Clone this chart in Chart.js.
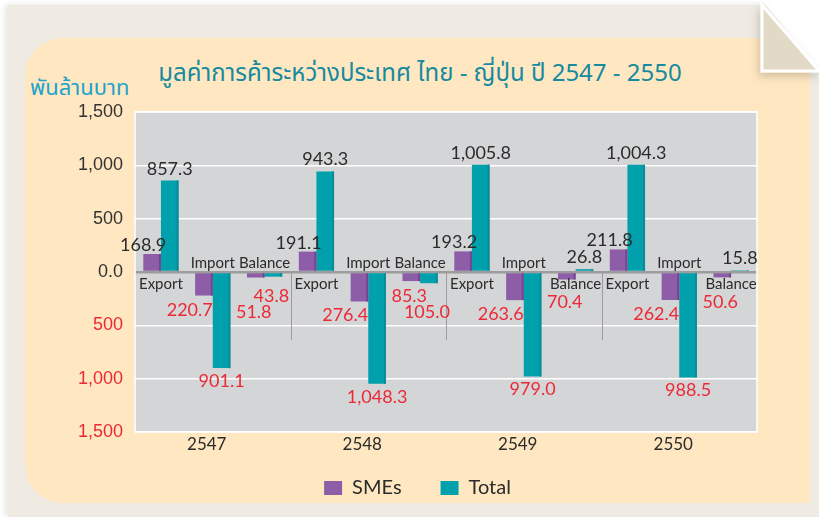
<!DOCTYPE html>
<html>
<head>
<meta charset="utf-8">
<script src="https://cdn.jsdelivr.net/npm/chart.js@4.4.1/dist/chart.umd.min.js"></script>
<style>
  html, body { margin: 0; padding: 0; background: #fff; }
  #wrap { position: relative; width: 819px; height: 517px; overflow: hidden; }
  .sheet { position: absolute; left: 8px; top: 5px; width: 811px; height: 512px; background: #EFEBE2;
           box-shadow: -3px 0 6px rgba(0,0,0,0.10); }
  .card { position: absolute; left: 25px; top: 38px; width: 785px; height: 465px; background: #FFE7C1;
          border-radius: 38px 0 0 38px; }
  .title { position: absolute; left: 0; width: 840px; top: 56px; text-align: center; color: #168A9E;
           font: 24px "Noto Sans Thai", "Noto Sans", "DejaVu Sans", sans-serif; white-space: nowrap; }
  .unit { position: absolute; left: 30px; top: 72px; color: #22A3CC;
          font: 22px "Noto Sans Thai", "Noto Sans", "DejaVu Sans", sans-serif; white-space: nowrap; }
  canvas { position: absolute; left: 0; top: 0; }
  svg.fold { position: absolute; left: 0; top: 0; }
</style>
</head>
<body>
<div id="wrap">
  <div class="sheet"></div>
  <div class="card"></div>
  <svg class="fold" width="819" height="517">
    <defs>
      <filter id="shade" x="-40%" y="-40%" width="180%" height="180%">
        <feDropShadow dx="-2" dy="4" stdDeviation="4" flood-color="#000" flood-opacity="0.18"/>
      </filter>
    </defs>
    <polygon points="762,0 819,0 819,71" fill="#ffffff"/>
    <polygon points="762,5 762,71 819,71" fill="#E2DAC7" stroke="#ffffff" stroke-width="3" filter="url(#shade)"/>
  </svg>
  <div class="title">มูลค่าการค้าระหว่างประเทศ ไทย - ญี่ปุ่น ปี 2547 - 2550</div>
  <div class="unit">พันล้านบาท</div>
  <canvas id="tradeChart" width="819" height="517"></canvas>
</div>
<script>
const years = ['2547', '2548', '2549', '2550'];
const flows = ['Export', 'Import', 'Balance'];
const seriesNames = ['SMEs', 'Total'];

const smeExport = [168.9, 191.1, 193.2, 211.8];
const smeImport = [-220.7, -276.4, -263.6, -262.4];
const smeBalance = [-51.8, -85.3, -70.4, -50.6];
const totalExport = [857.3, 943.3, 1005.8, 1004.3];
const totalImport = [-901.1, -1048.3, -979.0, -988.5];
const totalBalance = [-43.8, -105.0, 26.8, 15.8];

const yTicks = [-1500, -1000, -500, 0, 500, 1000, 1500];

const purple = '#8D5EA7';
const teal = '#00A0AD';
const red = '#EC2A36';
const ink = '#2B2B2B';
const latin = 'Lato, "Noto Sans", sans-serif';

// one slot per year and flow: Export, Import, Balance
const slotLabels = years.flatMap(y => flows.map(f => y + ' ' + f));
const interleave = (a, b, c) => years.flatMap((_, i) => [a[i], b[i], c[i]]);
const smeData = interleave(smeExport, smeImport, smeBalance);
const totalData = interleave(totalExport, totalImport, totalBalance);

const fmt = v => Math.abs(v).toLocaleString('en-US', { minimumFractionDigits: 1, maximumFractionDigits: 1 });

// grey plot panel, white frame, short dividers between years
const plotPanel = {
  id: 'plotPanel',
  beforeDraw(chart) {
    const { ctx, chartArea: a } = chart;
    ctx.save();
    ctx.fillStyle = '#D4D5D7';
    ctx.fillRect(a.left, a.top, a.width, a.height);
    ctx.restore();
  },
  beforeDatasetsDraw(chart) {
    const { ctx, chartArea: a, scales: { x, y } } = chart;
    const zero = y.getPixelForValue(0);
    ctx.save();
    ctx.strokeStyle = '#ffffff';
    ctx.lineWidth = 1.5;
    ctx.strokeRect(a.left, a.top, a.width, a.height);
    ctx.strokeStyle = '#9C9C9C';
    ctx.lineWidth = 1;
    for (let i = 1; i < years.length; i++) {
      const px = Math.round(x.getPixelForValue(i * flows.length - 0.5)) + 0.5;
      ctx.beginPath();
      ctx.moveTo(px, zero);
      ctx.lineTo(px, zero + 68);
      ctx.stroke();
    }
    ctx.restore();
  }
};

// darker right edge on each column
const columnEdge = {
  id: 'columnEdge',
  afterDatasetsDraw(chart) {
    const { ctx } = chart;
    const edges = ['#714690', '#0A8C97'];
    ctx.save();
    chart.data.datasets.forEach((ds, d) => {
      chart.getDatasetMeta(d).data.forEach(bar => {
        const top = Math.min(bar.y, bar.base);
        const h = Math.abs(bar.base - bar.y);
        ctx.fillStyle = edges[d];
        ctx.fillRect(bar.x + bar.width / 2 - 2, top, 2, h);
      });
    });
    ctx.restore();
  }
};

// flow names on the axis and the value of every column
const barText = {
  id: 'barText',
  afterDatasetsDraw(chart) {
    const { ctx, scales: { x, y } } = chart;
    const zero = y.getPixelForValue(0);
    const sme = chart.getDatasetMeta(0).data;
    const tot = chart.getDatasetMeta(1).data;
    ctx.save();
    ctx.textBaseline = 'alphabetic';

    slotLabels.forEach((_, j) => {
      const flow = j % flows.length;
      const cx = x.getPixelForValue(j);
      const below = totalData[j] >= 0;

      ctx.font = '15px ' + latin;
      ctx.fillStyle = ink;
      ctx.textAlign = 'center';
      ctx.fillText(flows[flow], cx, below ? zero + 17 : zero - 4);

      ctx.font = '18px ' + latin;
      const vals = [smeData[j], totalData[j]];
      const bars = [sme[j], tot[j]];
      const negs = [0, 1].filter(d => vals[d] < 0).sort((a, b) => Math.abs(vals[a]) - Math.abs(vals[b]));

      [0, 1].forEach(d => {
        const v = vals[d];
        const bar = bars[d];
        const txt = fmt(v);
        if (v >= 0) {
          ctx.fillStyle = ink;
          ctx.textAlign = 'center';
          const dx = d === 0 && flow === 0 ? -9 : 0;
          ctx.fillText(txt, bar.x + dx, bar.y - (d === 0 ? 3 : 6));
          return;
        }
        ctx.fillStyle = red;
        if (flow === 1) {
          if (d === 0) {
            ctx.textAlign = 'right';
            ctx.fillText(txt, bar.x + bar.width / 2, bar.y + 20);
          } else {
            ctx.textAlign = 'center';
            ctx.fillText(txt, bar.x, bar.y + 19);
          }
        } else {
          ctx.textAlign = 'center';
          const row = negs.indexOf(d);
          const mid = negs.length > 1 ? zero + 24 + row * 16 : zero + 30;
          ctx.fillText(txt, bar.x - 2, mid + 6);
        }
      });
    });
    ctx.restore();
  }
};

new Chart(document.getElementById('tradeChart'), {
  type: 'bar',
  data: {
    labels: slotLabels,
    datasets: [
      { label: seriesNames[0], data: smeData, backgroundColor: purple, barPercentage: 1, categoryPercentage: 0.68 },
      { label: seriesNames[1], data: totalData, backgroundColor: teal, barPercentage: 1, categoryPercentage: 0.68 }
    ]
  },
  options: {
    responsive: false,
    animation: false,
    devicePixelRatio: 1,
    layout: { padding: { left: 78, right: 62, top: 112, bottom: 9 } },
    plugins: {
      title: { display: false },
      tooltip: { enabled: false },
      legend: {
        position: 'bottom',
        labels: {
          boxWidth: 18, boxHeight: 14, padding: 24, color: ink, font: { family: latin, size: 20 },
          // a wider gap after the first entry
          generateLabels: chart => {
            const items = Chart.defaults.plugins.legend.labels.generateLabels(chart);
            items.forEach((it, i) => { if (i < items.length - 1) it.text += '\u2003'; });
            return items;
          }
        }
      }
    },
    scales: {
      x: { display: false },
      xYear: {
        type: 'category',
        labels: years,
        offset: true,
        position: 'bottom',
        grid: { display: false, drawTicks: false },
        border: { display: false },
        ticks: { color: ink, padding: 2, labelOffset: -6, font: { family: latin, size: 17 } },
        afterFit: s => { s.height = 22; }
      },
      y: {
        min: -1500,
        max: 1500,
        afterBuildTicks: s => { s.ticks = yTicks.map(v => ({ value: v })); },
        ticks: {
          padding: 12,
          color: c => c.tick.value < 0 ? red : '#333',
          font: { family: '"Liberation Sans", Arial, sans-serif', size: 18 },
          callback: v => v === 0 ? '0.0' : Math.abs(v).toLocaleString('en-US')
        },
        grid: {
          drawTicks: false,
          color: c => c.tick.value === 0 ? '#9C9C9C' : '#ffffff',
          lineWidth: c => c.tick.value === 0 ? 2.5 : 1.5
        },
        border: { display: false },
        afterFit: s => { s.width = 57; }
      }
    }
  },
  plugins: [plotPanel, columnEdge, barText]
});
</script>
</body>
</html>
